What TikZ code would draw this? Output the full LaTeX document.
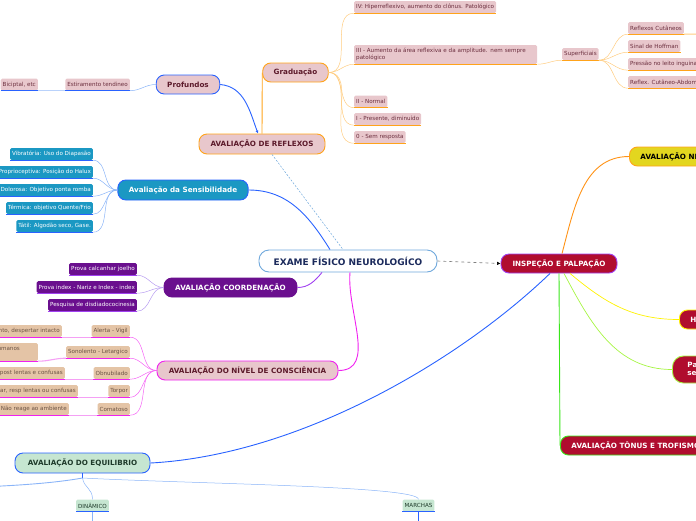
\documentclass[tikz,border=0pt]{standalone}
\usepackage{fontspec}
\setmainfont{DejaVu Sans}
\usepackage{tikz}
\usetikzlibrary{arrows.meta,calc}
\definecolor{rosa}{HTML}{E8C7CC}\definecolor{laranja}{HTML}{FFA31A}\definecolor{laranjac}{HTML}{FFCC80}
\definecolor{vinho}{HTML}{5C1A2B}\definecolor{azul}{HTML}{2962FF}\definecolor{azulc}{HTML}{8AB4F8}
\definecolor{celeste}{HTML}{6FA8DC}\definecolor{marinho}{HTML}{1B2A5C}\definecolor{carmim}{HTML}{B00D2E}
\definecolor{roxo}{HTML}{6A0F8E}\definecolor{roxoc}{HTML}{B79CF0}\definecolor{lilas}{HTML}{A040F0}
\definecolor{choque}{HTML}{F020F0}\definecolor{choquec}{HTML}{F5A0F5}\definecolor{bege}{HTML}{E4C4A6}
\definecolor{marrom}{HTML}{6B5344}\definecolor{turquesa}{HTML}{1B98C3}\definecolor{menta}{HTML}{C6E6D1}
\definecolor{verdeesc}{HTML}{1E3A2A}\definecolor{amarelo}{HTML}{E3D61F}\definecolor{verde}{HTML}{39E61A}
\definecolor{lima}{HTML}{A6F542}\definecolor{tinto}{HTML}{6B2E3E}

\begin{document}
\begin{tikzpicture}[x=1pt,y=-1pt,>=Latex,
pill/.style={rounded corners=8pt,line width=.9pt,minimum height=19pt,inner xsep=11pt,inner ysep=2pt,font=\fontsize{7.2}{8.2}\selectfont\bfseries},
lf/.style={rounded corners=1.5pt,minimum height=12pt,inner sep=2pt,font=\fontsize{5.6}{6.6}\selectfont},
rl/.style={lf,fill=rosa,text=tinto},tl/.style={lf,fill=turquesa,text=white},pl/.style={lf,fill=roxo,text=white},
bl/.style={lf,fill=bege,text=marrom},ml/.style={lf,fill=menta,text=verdeesc},
a/.style={line width=.9pt},t/.style={line width=.5pt},ul/.style={line width=1.1pt}]
\clip (0,0) rectangle (696,520);
% main nodes
\node[pill,fill=white,draw=celeste,text=marinho,minimum width=178pt,minimum height=22pt,rounded corners=10pt,font=\fontsize{9}{10}\selectfont\bfseries] (c) at (348,261) {EXAME FÍSICO NEUROLOGÍCO};
\node[pill,fill=carmim,draw=lilas,text=white,minimum width=116pt] (ip) at (559,263.5) {INSPEÇÃO E PALPAÇÃO};
\node[pill,fill=rosa,draw=laranja,text=vinho,minimum width=126pt,minimum height=20pt] (rf) at (262,144) {AVALIAÇÃO DE REFLEXOS};
\node[pill,fill=rosa,draw=laranja,text=vinho,minimum width=65pt] (gr) at (295.5,72.5) {Graduação};
\node[pill,fill=rosa,draw=azul,text=vinho,minimum width=62pt] (pf) at (188,84.5) {Profundos};
\node[pill,fill=turquesa,draw=azul,text=white,minimum width=128pt,minimum height=20pt] (se) at (183,190) {Avaliação da Sensibilidade};
\node[pill,fill=roxo,draw=roxo,text=white,minimum width=133pt] (co) at (230.5,287.5) {AVALIAÇÃO COORDENAÇÃO};
\node[pill,fill=rosa,draw=choque,text=vinho,minimum width=181pt] (nc) at (247.5,370.5) {AVALIAÇÃO DO NÍVEL DE CONSCIÊNCIA};
\node[pill,fill=menta,draw=azul,text=verdeesc,minimum width=135pt,minimum height=20pt] (eq) at (82.5,463) {AVALIAÇÃO DO EQUILIBRIO};
\node[pill,fill=amarelo,draw=laranja,text=black,anchor=west] (ny) at (629,156.5) {AVALIAÇÃO NERVOS CRANIANOS};
\node[pill,fill=carmim,draw=yellow,text=white,anchor=west] (hh) at (679,319.5) {HIPERTROFIA};
\node[pill,fill=carmim,draw=lima,text=white,anchor=west,align=left,minimum height=27pt,rounded corners=11pt,inner xsep=15pt] (pa) at (672,369.5) {Palpação dos\\segmentos};
\node[pill,fill=carmim,draw=verde,text=white,anchor=west] (tt) at (560,445.5) {AVALIAÇÃO TÔNUS E TROFISMO};
% reflexos
\node[rl,anchor=west] (g4) at (354,7) {IV: Hiperreflexivo, aumento do clônus. Patológico};
\node[rl,anchor=west,text width=179pt,align=left,minimum height=19pt] (g3) at (354,54.5) {III - Aumento da área reflexiva e da amplitude. nem sempre\\patológico};
\node[rl,anchor=west] (g2) at (354,101.5) {II - Normal};
\node[rl,anchor=west] (g1) at (354,119) {I - Presente, diminuído};
\node[rl,anchor=west] (g0) at (354,137) {0 - Sem resposta};
\node[rl,anchor=west] (sp) at (562,54) {Superficiais};
\node[rl,anchor=west] (s1) at (628,28) {Reflexos Cutâneos};
\node[rl,anchor=west] (s2) at (628,46) {Sinal de Hoffman};
\node[rl,anchor=west] (s3) at (628,64) {Pressão no leito inguinal};
\node[rl,anchor=west] (s4) at (628,82) {Reflex. Cutâneo-Abdominal};
\node[rl,anchor=east] (et) at (130,84.5) {Estiramento tendineo};
\node[rl,anchor=east] (bc) at (38,84.5) {Biciptal, etc};
\coordinate (s1x) at (720,34);
% sensibilidade
\node[tl,anchor=east] (v1) at (93,154) {Vibratória: Uso do Diapasão};
\node[tl,anchor=east] (v2) at (93,172) {Proprioceptiva: Posição do Halux};
\node[tl,anchor=east] (v3) at (93,190) {Dolorosa: Objetivo ponta romba};
\node[tl,anchor=east] (v4) at (93,208) {Térmica: objetivo Quente/Frio};
\node[tl,anchor=east] (v5) at (93,226) {Tátil: Algodão seco, Gase.};
% coordenacao
\node[pl,anchor=east] (k1) at (137,269) {Prova calcanhar joelho};
\node[pl,anchor=east] (k2) at (137,287) {Prova index - Nariz e Index - index};
\node[pl,anchor=east] (k3) at (137,305) {Pesquisa de disdiadococinesia};
% consciencia
\node[bl,anchor=east] (n1) at (130,331) {Alerta - Vigil};
\node[bl,anchor=east] (n2) at (130,352) {Sonolento - Letargico};
\node[bl,anchor=east] (n3) at (130,373) {Obnubilado};
\node[bl,anchor=east] (n4) at (130,391) {Torpor};
\node[bl,anchor=east] (n5) at (130,409) {Comatoso};
\node[bl,anchor=east] (m1) at (62,331) {Atento, despertar intacto};
\node[bl,anchor=east,text width=112pt,align=left,minimum height=18pt] (m2) at (38,352) {Desperta com estímulos humanos\\fracos};
\node[bl,anchor=east] (m3) at (65,373) {Desperta, respost lentas e confusas};
\node[bl,anchor=east] (m4) at (78,391) {Difícil despertar, resp lentas ou confusas};
\node[bl,anchor=east] (m5) at (69,409) {Não reage ao ambiente};
% equilibrio
\node[ml] (dn) at (92.5,505.5) {DINÂMICO};
\node[ml] (mr) at (418.5,505.5) {MARCHAS};
\coordinate (eqs) at (82.5,478);\coordinate (eqx) at (-20,487);\coordinate (dnx) at (92.5,530);\coordinate (mrx) at (418.5,530);
% underlines
\foreach \n in {g4,g3,g2,g1,g0,sp,s1,s2,s3,s4} \draw[ul,laranja] (\n.south west)--(\n.south east);
\foreach \n in {et,bc,v1,v2,v3,v4,v5,dn,mr} \draw[ul,azul] (\n.south west)--(\n.south east);
\foreach \n in {k1,k2,k3} \draw[ul,lilas] (\n.south west)--(\n.south east);
\foreach \n in {n1,n2,n3,n4,n5,m1,m2,m3,m4,m5} \draw[ul,choque] (\n.south west)--(\n.south east);
% connectors
\foreach \n in {g4,g3,g2,g1,g0} \draw[t,laranjac] (gr.east) to[out=0,in=180] (\n.south west);
\foreach \n in {s1,s2,s3,s4} \draw[t,laranjac] (sp.south east) to[out=0,in=180] (\n.south west);
\draw[t,laranjac] (g3.south east) to[out=0,in=180] (sp.south west);\draw[ul,laranjac] (s1.south east)--(s1x);
\draw[a,laranja] (rf.north)--(gr.west);
\draw[a,azul,-{Latex[length=3pt,width=3pt]}] (pf.east) to[out=-5,in=110] ($(rf.north)+(-4,0)$);
\draw[t,azulc] (pf.west) to[out=180,in=0] (et.south east);\draw[ul,azulc!60] (et.south west)--(bc.south east);
\draw[t,celeste,dash pattern=on 2pt off 1.5pt] ($(rf.south)+(10,0)$)--($(c.north)+(-5,0)$);
\draw[dashed,gray,line width=.6pt,-{Latex[length=3.5pt,width=3.5pt,color=black]}] (c.east)--(ip.west);
\draw[a,azul] (se.east) to[out=0,in=122] ($(c.north)+(-18,0)$);
\foreach \n in {v1,v2,v3,v4,v5} \draw[t,azulc] (se.west) to[out=180,in=0] (\n.south east);
\draw[a,lilas] (co.east) to[out=0,in=-130] ($(c.south)+(-26,0)$);
\foreach \n in {k1,k2,k3} \draw[t,roxoc] (co.west) to[out=180,in=0] (\n.south east);
\draw[a,choque] (nc.east) to[out=0,in=-95] ($(c.south)+(2,0)$);
\foreach \n in {n1,n2,n3,n4,n5} \draw[t,choque!70] (nc.west) to[out=180,in=0] (\n.south east);
\foreach \a/\b in {n1/m1,n2/m2,n3/m3,n4/m4,n5/m5} \draw[ul,choquec] (\a.south west) to[out=180,in=0] (\b.south east);
\draw[a,azul] (eq.east) .. controls (300,455) and (460,360) .. ($(ip.south)+(-9,0)$);
\draw[a,laranja!90!red] ($(ip.north)+(3,0)$) to[out=75,in=180] (ny.west);
\draw[t,yellow,line width=.7pt] ($(ip.south)+(11,0)$) to[out=-40,in=180] (hh.west);
\draw[t,lima,line width=.7pt] ($(ip.south)+(5,0)$) to[out=-62,in=180] (pa.west);
\draw[a,verde] (ip.south)--(tt.west);
\draw[t,azul] (eq.south)--(eqs);
\draw[a,azulc] (eqs) .. controls (60,482) and (30,485) .. (eqx);
\draw[t,azulc] (eqs) .. controls (84,488) and (92.5,488) .. (dn.north);
\draw[t,azulc] (eqs) .. controls (200,484) and (418.5,486) .. (mr.north);
\draw[t,azulc] (dn.south)--(dnx);\draw[ul,azul] (mr.south)--(mrx);
\end{tikzpicture}
\end{document}
